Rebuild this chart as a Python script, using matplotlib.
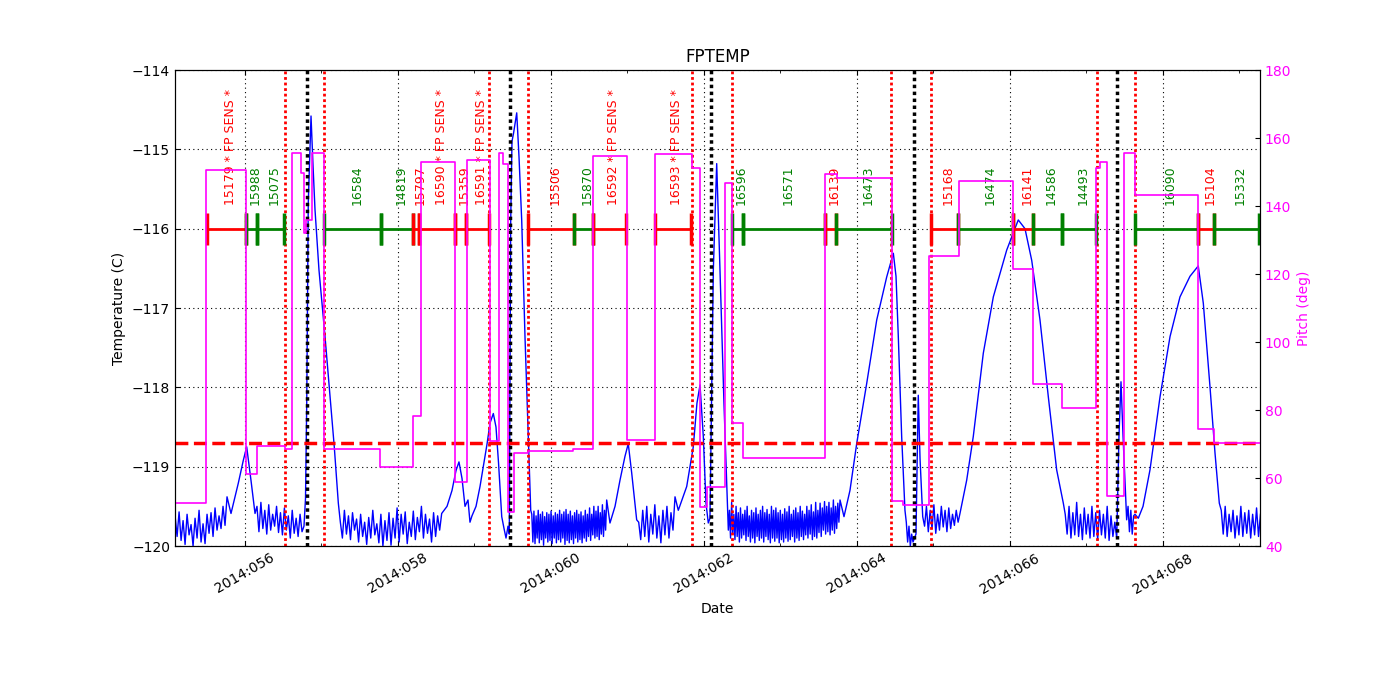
import matplotlib
matplotlib.use('Agg')
import matplotlib.pyplot as plt
import matplotlib.transforms as mtransforms
import numpy as np
from matplotlib.ticker import MultipleLocator, FuncFormatter

# x axis is day-of-year 2014
XLIM = (55.085, 69.268)
FPTEMP_LIMIT = -118.7

# pitch (deg): times where the value changes, and the value held after it
pitch_t = [55.085, 55.490, 56.009, 56.153, 56.523, 56.610, 56.732, 56.770, 56.800, 56.880,
           57.030, 57.765, 58.200, 58.297, 58.745, 58.898, 59.203, 59.324, 59.376, 59.442,
           59.520, 59.703, 60.292, 60.545, 61.000, 61.359, 61.839, 61.948, 62.043, 62.275,
           62.362, 62.506, 63.582, 63.735, 64.454, 64.605, 64.945, 65.333, 66.043, 66.305,
           66.676, 67.124, 67.176, 67.264, 67.494, 67.634, 68.461, 68.667, 69.268]
pitch_v = [52.7, 150.6, 61.2, 69.4, 68.4, 155.7, 149.7, 132.0, 136.0, 155.5,
           68.4, 63.2, 78.2, 152.9, 58.9, 153.5, 71.0, 155.5, 152.3, 50.1,
           67.4, 68.0, 68.5, 154.7, 71.2, 155.3, 151.1, 51.4, 57.3, 146.9,
           76.3, 66.0, 149.3, 148.1, 53.3, 52.0, 125.4, 147.4, 121.5, 87.6,
           80.7, 151.1, 153.0, 54.7, 155.5, 143.2, 74.3, 70.2, 70.2]

# FPTEMP (C): smooth stretches (heating peaks, perigee spikes)
temp_key_t = [55.765, 55.817, 55.912, 55.978, 56.022, 56.078, 56.131,
              56.771, 56.791, 56.807, 56.827, 56.863, 56.889, 56.915, 56.967, 57.046, 57.120, 57.167, 57.220,
              58.571, 58.641, 58.706, 58.758, 58.797, 58.837, 58.876, 58.915, 58.941, 58.967, 59.020,
              59.072, 59.124, 59.163, 59.203, 59.246, 59.281, 59.314, 59.356, 59.386, 59.412, 59.438,
              59.455, 59.473, 59.490, 59.510, 59.552, 59.582, 59.617, 59.660, 59.703, 59.735,
              60.728, 60.771, 60.837, 60.902, 60.967, 61.010, 61.055, 61.120,
              61.621, 61.664, 61.774, 61.860, 61.908, 61.948, 61.991, 62.026, 62.056, 62.078,
              62.122, 62.166, 62.209, 62.261, 62.318,
              63.778, 63.830, 63.908, 63.996, 64.127, 64.258, 64.388, 64.475, 64.510, 64.540, 64.584, 64.627,
              64.732, 64.771, 64.801, 64.824, 64.859,
              65.346, 65.434, 65.520, 65.651, 65.782, 65.957, 66.108, 66.196, 66.284, 66.392, 66.501, 66.610, 66.697,
              67.395, 67.425, 67.451, 67.477, 67.525,
              67.634, 67.677, 67.739, 67.830, 67.961, 68.092, 68.222, 68.353, 68.461, 68.527, 68.614, 68.680, 68.736]
temp_key_v = [-119.38, -119.59, -119.21, -118.92, -118.75, -119.17, -119.59,
              -119.75, -119.4, -118.2, -115.68, -114.58, -115.2, -115.76, -116.52, -117.36, -118.2, -118.75, -119.46,
              -119.59, -119.5, -119.3, -119.05, -118.94, -119.15, -119.5, -119.42, -119.7, -119.62, -119.5,
              -119.25, -118.95, -118.72, -118.45, -118.33, -118.5, -118.95, -119.63, -119.78, -119.9, -119.75,
              -119.85, -115.93, -114.9, -114.8, -114.54, -115.1, -115.89, -117.36, -118.62, -119.55,
              -119.42, -119.71, -119.5, -119.17, -118.87, -118.71, -119.08, -119.67,
              -119.38, -119.55, -119.25, -118.75, -118.2, -117.97, -118.62, -119.46, -119.71, -119.65,
              -116.52, -115.18, -116.52, -118.2, -119.8,
              -119.42, -119.63, -119.3, -118.71, -117.95, -117.15, -116.61, -116.31, -116.6, -117.36, -118.62, -119.55,
              -119.95, -119.85, -118.1, -118.9, -119.63,
              -119.59, -119.17, -118.62, -117.57, -116.86, -116.27, -115.89, -116.0, -116.4, -117.15, -118.12, -119.04, -119.46,
              -119.9, -118.6, -117.93, -118.6, -119.67,
              -119.6, -119.65, -119.5, -119.04, -118.12, -117.36, -116.86, -116.6, -116.47, -116.94, -117.99, -118.83, -119.46]

# FPTEMP (C): noisy cold stretches, each sampled evenly over its span
noise_spans = [(55.06, 55.765), (56.131, 56.771), (57.220, 58.571), (59.735, 60.728),
               (61.120, 61.621), (62.318, 63.778), (64.627, 64.732), (64.859, 65.346),
               (66.697, 67.395), (67.525, 67.634), (68.736, 69.30)]
noise_vals = [
    [-119.62, -119.88, -119.57, -119.93, -119.68, -119.98, -119.6, -119.86, -119.73, -120.0, -119.65, -119.9, -119.55,
     -119.95, -119.72, -119.97, -119.6, -119.84, -119.58, -119.88, -119.52, -119.8, -119.62, -119.78, -119.5, -119.74],
    [-119.5, -119.82, -119.45, -119.78, -119.55, -119.85, -119.48, -119.8, -119.6, -119.75, -119.5, -119.83,
     -119.58, -119.86, -119.52, -119.8, -119.62, -119.9, -119.55, -119.84, -119.65, -119.88, -119.6, -119.82],
    [-119.7, -119.9, -119.55, -119.85, -119.62, -119.92, -119.58, -119.8, -119.66, -119.95, -119.6, -119.88, -119.7,
     -119.98, -119.64, -119.9, -119.55, -119.86, -119.72, -119.96, -119.6, -120.0, -119.68, -119.93, -119.58, -119.99,
     -119.65, -119.9, -119.52, -119.95, -119.6, -119.85, -119.57, -119.97, -119.7, -119.88, -119.56, -119.92, -119.64,
     -119.82, -119.5, -119.9, -119.6, -119.84, -119.66, -119.95, -119.58, -119.88, -119.62, -119.8],
    [-119.6, -119.95, -119.56, -119.97, -119.62, -119.9, -119.55, -119.96, -119.6, -119.92,
     -119.57, -119.99, -119.63, -119.9, -119.58, -119.95, -119.6, -119.93, -119.56, -119.97,
     -119.62, -119.9, -119.58, -119.96, -119.6, -119.92, -119.55, -119.95, -119.6, -119.9,
     -119.57, -119.98, -119.54, -119.93, -119.6, -119.96, -119.56, -119.92, -119.62, -119.97,
     -119.58, -119.9, -119.55, -119.95, -119.6, -119.92, -119.57, -119.96, -119.62, -119.9,
     -119.55, -119.94, -119.6, -119.88, -119.52, -119.93, -119.6, -119.86, -119.5, -119.9,
     -119.56, -119.88, -119.5, -119.92, -119.58, -119.85, -119.48, -119.88, -119.55, -119.8],
    [-119.7, -119.92, -119.55, -119.88, -119.5, -119.95, -119.6, -119.85, -119.48, -119.9, -119.62, -119.96, -119.55,
     -119.86, -119.5, -119.9, -119.58, -119.8],
    [-119.55, -119.9, -119.45, -119.85, -119.6, -119.92, -119.5, -119.88, -119.58, -119.95,
     -119.52, -119.9, -119.6, -119.86, -119.55, -119.93, -119.5, -119.88, -119.62, -119.95,
     -119.55, -119.9, -119.58, -119.96, -119.52, -119.88, -119.6, -119.93, -119.55, -119.9,
     -119.5, -119.95, -119.58, -119.88, -119.54, -119.92, -119.6, -119.96, -119.5, -119.9,
     -119.55, -119.94, -119.52, -119.9, -119.58, -119.96, -119.55, -119.92, -119.6, -119.95,
     -119.53, -119.9, -119.57, -119.94, -119.5, -119.92, -119.6, -119.88, -119.55, -119.95,
     -119.52, -119.9, -119.58, -119.93, -119.5, -119.88, -119.56, -119.92, -119.6, -119.86,
     -119.5, -119.9, -119.55, -119.85, -119.48, -119.92, -119.57, -119.88, -119.45, -119.9,
     -119.55, -119.83, -119.46, -119.88, -119.52, -119.8, -119.44, -119.85, -119.5, -119.82,
     -119.45, -119.86, -119.52, -119.8, -119.42, -119.84, -119.5, -119.78, -119.46, -119.7],
    [-119.7, -119.95, -119.75, -120.0, -119.85],
    [-119.75, -119.5, -119.82, -119.55, -119.78, -119.48, -119.84, -119.6, -119.8, -119.5, -119.76, -119.55, -119.82,
     -119.52, -119.78, -119.6, -119.74, -119.55, -119.7],
    [-119.6, -119.85, -119.5, -119.9, -119.58, -119.86, -119.45, -119.88, -119.6, -119.92, -119.52, -119.85, -119.6,
     -119.9, -119.5, -119.88, -119.58, -119.92, -119.55, -119.86, -119.6, -119.9, -119.5, -119.93, -119.62, -119.88, -119.7],
    [-119.5, -119.82, -119.55, -119.85, -119.62],
    [-119.55, -119.85, -119.5, -119.88, -119.6, -119.82, -119.55, -119.9, -119.62, -119.86, -119.5, -119.88, -119.58,
     -119.84, -119.55, -119.9, -119.6, -119.86, -119.52, -119.88, -119.6],
]

# scheduled observations
obs_ids = ['15179 * FP SENS *', '15988', '15075', '16584', '14819', '15797', '16590 * FP SENS *', '15359',
           '16591 * FP SENS *', '15506', '15870', '16592 * FP SENS *', '16593 * FP SENS *', '16596', '16571',
           '16139', '16473', '15168', '16474', '16141', '14586', '14493', '16090', '15104', '15332']
obs_start = [55.499, 56.009, 56.153, 57.039, 57.778, 58.200, 58.278, 58.745, 58.889, 59.703, 60.301, 60.545,
             61.359, 62.370, 62.506, 63.582, 63.725, 64.963, 65.324, 66.043, 66.297, 66.676, 67.634, 68.461, 68.663]
obs_stop = [56.009, 56.153, 56.514, 57.778, 58.200, 58.278, 58.745, 58.889, 59.194, 60.301, 60.545, 60.980,
            61.826, 62.506, 63.582, 63.725, 64.454, 65.324, 66.043, 66.297, 66.676, 67.124, 68.461, 68.663, 69.259]
obs_color = ['r', 'g', 'g', 'g', 'g', 'r', 'r', 'r', 'r', 'r', 'g', 'r', 'r', 'g', 'g',
             'r', 'g', 'r', 'g', 'r', 'g', 'g', 'g', 'r', 'g']

# radiation zone edges and perigee times
rad_t = [56.523, 57.033, 59.190, 59.699, 61.839, 62.366, 64.451, 64.961, 67.131, 67.634]
perigee_t = [56.810, 59.458, 62.098, 64.739, 67.399]

COLORS = {'r': '#ff0000', 'g': '#008000'}
OBS_Y = -116.0

# assemble the temperature series
t_all = list(temp_key_t)
v_all = list(temp_key_v)
for (t0, t1), vals in zip(noise_spans, noise_vals):
    t_all.extend(np.linspace(t0, t1, len(vals) + 2)[1:-1])
    v_all.extend(vals)
order = np.argsort(t_all)
t_all = np.array(t_all)[order]
v_all = np.array(v_all)[order]

plt.rcParams['xtick.direction'] = 'in'
plt.rcParams['ytick.direction'] = 'in'
plt.rcParams['xtick.top'] = True

fig, ax = plt.subplots(figsize=(14, 7), dpi=100)
fig.subplots_adjust(left=0.125, right=0.9, top=0.9, bottom=0.22)

ax.plot(t_all, v_all, color='b', lw=1)

for t in rad_t:
    ax.axvline(t, color='r', ls=':', lw=2, dashes=(1, 1))
for t in perigee_t:
    ax.axvline(t, color='k', ls=':', lw=2.5, dashes=(1, 1))

ax.axhline(FPTEMP_LIMIT, color='r', ls='--', lw=2.5)

# obs labels sit a few pixels right of the segment middle
label_tr = mtransforms.offset_copy(ax.transData, fig=fig, x=4, y=0, units='dots')
for oid, t0, t1, c in zip(obs_ids, obs_start, obs_stop, obs_color):
    ax.plot([t0, t1], [OBS_Y, OBS_Y], color=COLORS[c], lw=2, marker='|', ms=23, mew=2.5)
    ax.text((t0 + t1) / 2, OBS_Y + 0.3, oid, rotation=90, color=COLORS[c], fontsize=9,
            ha='center', va='bottom', transform=label_tr)

ax.set_xlim(*XLIM)
ax.set_ylim(-120, -114)
ax.xaxis.set_major_locator(MultipleLocator(2))
ax.xaxis.set_minor_locator(MultipleLocator(1))
ax.xaxis.set_major_formatter(FuncFormatter(lambda x, pos: '2014:%03d' % int(round(x))))
for lab in ax.get_xticklabels():
    lab.set_rotation(30)
    lab.set_ha('center')
ax.grid(True, color='k', ls=(0, (1, 3)), lw=0.8)
ax.set_title('FPTEMP')
ax.set_xlabel('Date')
ax.set_ylabel('Temperature (C)')

ax2 = ax.twinx()
ax2.plot(pitch_t, pitch_v, color='magenta', lw=1.2, drawstyle='steps-post')
ax2.set_ylim(40, 180)
ax2.set_xlim(*XLIM)
ax2.tick_params(axis='y', labelcolor='magenta', direction='in')
ax2.set_ylabel('Pitch (deg)', color='magenta')

fig.savefig('out.png', dpi=100)
